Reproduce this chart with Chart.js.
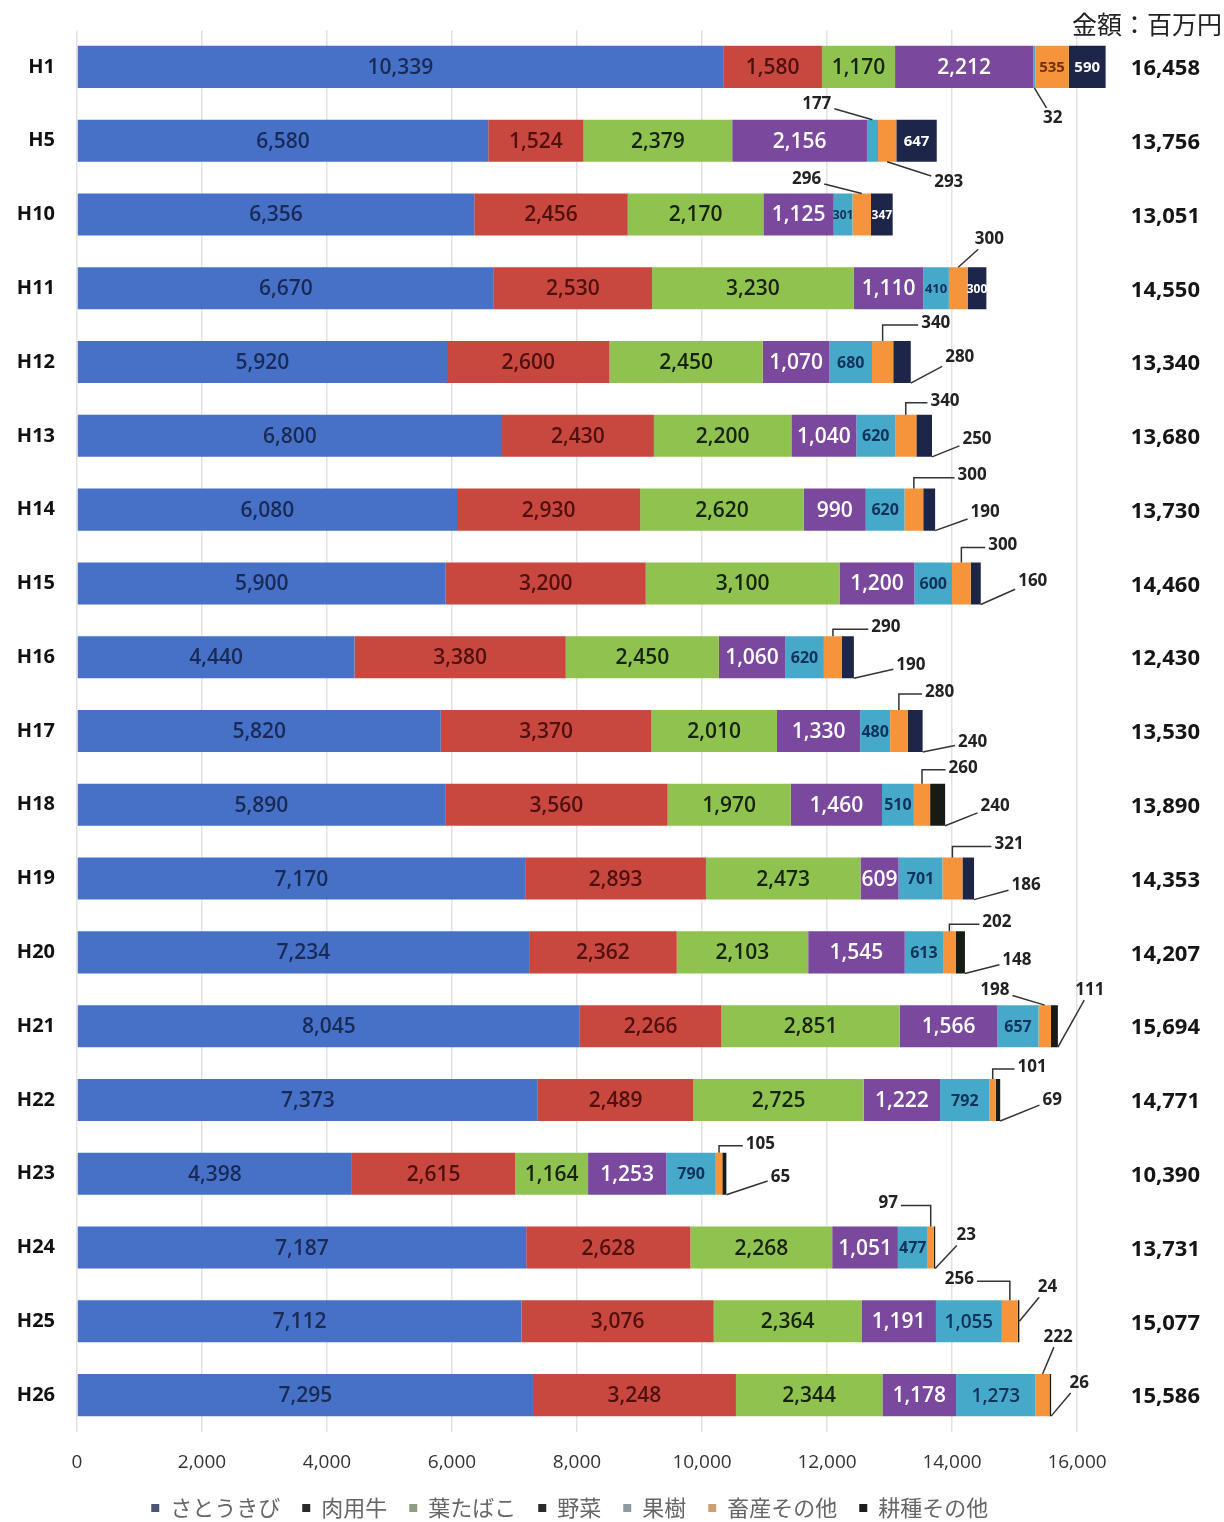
<!DOCTYPE html>
<html><head><meta charset="utf-8">
<script src="https://cdn.jsdelivr.net/npm/chart.js@4.4.1/dist/chart.umd.min.js"></script>
<style>html,body{margin:0;padding:0;background:#fff;}#wrap{position:relative;width:1224px;height:1522px;}</style>
</head><body><div id="wrap"><canvas id="c"></canvas></div>
<script>
const categories = ['H1','H5','H10','H11','H12','H13','H14','H15','H16','H17','H18','H19','H20','H21','H22','H23','H24','H25','H26'];
const sugarcane      = [10339,6580,6356,6670,5920,6800,6080,5900,4440,5820,5890,7170,7234,8045,7373,4398,7187,7112,7295];
const beef           = [1580,1524,2456,2530,2600,2430,2930,3200,3380,3370,3560,2893,2362,2266,2489,2615,2628,3076,3248];
const tobacco        = [1170,2379,2170,3230,2450,2200,2620,3100,2450,2010,1970,2473,2103,2851,2725,1164,2268,2364,2344];
const vegetables     = [2212,2156,1125,1110,1070,1040,990,1200,1060,1330,1460,609,1545,1566,1222,1253,1051,1191,1178];
const fruit          = [32,177,301,410,680,620,620,600,620,480,510,701,613,657,792,790,477,1055,1273];
const livestockOther = [535,293,296,300,340,340,300,300,290,280,260,321,202,198,101,105,97,256,222];
const cropOther      = [590,647,347,300,280,250,190,160,190,240,240,186,148,111,69,65,23,24,26];
const totals         = [16458,13756,13051,14550,13340,13680,13730,14460,12430,13530,13890,14353,14207,15694,14771,10390,13731,15077,15586];
const xTicks = [0,2000,4000,6000,8000,10000,12000,14000,16000];
const seriesNames = ['さとうきび','肉用牛','葉たばこ','野菜','果樹','畜産その他','耕種その他'];
const unitLabel = '金額：百万円';

const seriesColors = ['#4671c6','#c8473e','#8fc24f','#7a489c','#47a9c9','#f6943c','#1d2548'];
const darkCrop = '#161b16';
const cropColors = categories.map((c,i)=> (i===10 || i>=12) ? darkCrop : seriesColors[6]);
const textColors = ['#1a2a56','#50100e','#16220b','#ffffff','#10325a','#6a3210','#ffffff'];
const legendBoxColors = ['#4c5575','#2a2a2a','#8e9c80','#2a2a2a','#8c9ba2','#caa070','#1e1e1e'];

// callouts: [categoryIndex, seriesIndex, dx, dy (text centre relative to bar end / bar centre), kind, anchor]
const callouts = [
 [0,4,-53,51,'line','bc'],
 [1,4,-120,-37,'line','tc'],[1,5,12,41,'line','bc'],
 [2,5,-86,-35,'line','tc'],
 [3,5,3,-49,'line','tc'],
 [4,5,25,-39,'bracket','tc'],[4,6,49,-5,'line','br'],
 [5,5,13,-35,'bracket','tc'],[5,6,45,3,'line','br'],
 [6,5,37,-34,'bracket','tc'],[6,6,50,3,'line','br'],
 [7,5,22,-38,'bracket','tc'],[7,6,52,-2,'line','br'],
 [8,5,32,-30,'bracket','tc'],[8,6,57,8,'line','br'],
 [9,5,17,-39,'bracket','tc'],[9,6,50,11,'line','br'],
 [10,5,18,-37,'bracket','tc'],[10,6,50,1,'line','br'],
 [11,5,35,-34,'bracket','tc'],[11,6,52,7,'line','br'],
 [12,5,32,-30,'bracket','tc'],[12,6,52,8,'line','br'],
 [13,5,-63,-36,'line','tc'],[13,6,32,-36,'line','br'],
 [14,5,32,-33,'bracket','tc'],[14,6,52,0,'line','br'],
 [15,5,34,-30,'bracket','tc'],[15,6,54,3,'line','br'],
 [16,5,-47,-44,'bracket','tc'],[16,6,31,-12,'line','br'],
 [17,5,-60,-42,'bracket','tc'],[17,6,28,-34,'line','rm'],
 [18,5,7,-58,'line','tc'],[18,6,28,-12,'line','br']
];
const insideSmall = new Set(['0-5','0-6','1-6','2-6','3-6']);

const fmt = v => v.toLocaleString('en-US');
const NUMFONT = '"Open Sans", "DejaVu Sans", sans-serif';

const seriesData = [sugarcane,beef,tobacco,vegetables,fruit,livestockOther,cropOther];
const datasets = seriesData.map((d,i)=>({
  label: seriesNames[i],
  data: d,
  backgroundColor: i===6 ? cropColors : seriesColors[i],
  borderWidth: 0,
  barPercentage: 0.57,
  categoryPercentage: 1.0
}));

const labelPlugin = {
  id:'labels',
  afterDatasetsDraw(chart){
    const ctx = chart.ctx;
    ctx.save();
    ctx.textBaseline = 'middle';
    ctx.textAlign = 'center';
    chart.data.datasets.forEach((ds,di)=>{
      const meta = chart.getDatasetMeta(di);
      meta.data.forEach((el,j)=>{
        const v = ds.data[j];
        const key = j+'-'+di;
        let show = di<=4 ? v>=300 : insideSmall.has(key);
        if(!show) return;
        const w = Math.abs(el.x - el.base);
        const cx = (el.x + el.base)/2;
        let size, weight='600';
        if(di<=3){ size = 21; }
        else if(di===4){ if(v<1000){size=16;weight='bold';} else {size=19;} }
        else { size = 15; weight='bold'; }
        const txt = fmt(v);
        ctx.font = weight+' '+size+'px '+NUMFONT;
        while(ctx.measureText(txt).width > w-2 && size>12){ size--; ctx.font = weight+' '+size+'px '+NUMFONT; }
        ctx.fillStyle = textColors[di];
        ctx.fillText(txt, cx, el.y+1);
      });
    });
    ctx.font = 'bold 17px '+NUMFONT;
    ctx.strokeStyle = '#333';
    ctx.lineWidth = 1.5;
    const lastMeta = chart.getDatasetMeta(6);
    callouts.forEach(([ci,si,dx,dy,kind,anchor])=>{
      const el = chart.getDatasetMeta(si).data[ci];
      const endX = lastMeta.data[ci].x;
      const cy = el.y, h = el.height;
      const tx = endX + dx, ty = cy + dy;
      let ax, ay;
      const segC = (el.x+el.base)/2;
      if(anchor==='tc'){ax=segC; ay=cy-h/2;}
      else if(anchor==='bc'){ax=segC; ay=cy+h/2;}
      else if(anchor==='br'){ax=el.x; ay=cy+h/2;}
      else {ax=el.x; ay=cy;}
      const txt = fmt(chart.data.datasets[si].data[ci]);
      const tw = ctx.measureText(txt).width;
      ctx.fillStyle = '#222';
      ctx.fillText(txt, tx, ty);
      ctx.beginPath();
      if(kind==='bracket'){
        const ex = ax < tx ? tx - tw/2 - 3 : tx + tw/2 + 3;
        ctx.moveTo(ax, ay);
        ctx.lineTo(ax, ty+2);
        ctx.lineTo(ex, ty+2);
      } else {
        const vx = ax - tx, vy = ay - ty;
        const t = Math.min(Math.abs(vx)>0.01 ? (tw/2+3)/Math.abs(vx) : 99, Math.abs(vy)>0.01 ? 10/Math.abs(vy) : 99);
        ctx.moveTo(ax, ay);
        ctx.lineTo(tx + vx*t, ty + vy*t);
      }
      ctx.stroke();
    });
    ctx.textAlign = 'right';
    ctx.font = 'bold 22px '+NUMFONT;
    ctx.fillStyle = '#151515';
    lastMeta.data.forEach((el,j)=>{ ctx.fillText(fmt(totals[j]), 1200, el.y+2); });
    ctx.font = '25px "Noto Sans CJK JP", sans-serif';
    ctx.fillStyle = '#222';
    ctx.fillText(unitLabel, 1222, 24);
    ctx.restore();
  }
};

new Chart(document.getElementById('c'), {
  type:'bar',
  data:{ labels: categories, datasets },
  options:{
    indexAxis:'y',
    responsive:true,
    maintainAspectRatio:false,
    devicePixelRatio:1,
    animation:false,
    layout:{ padding:{ top:30, right:84.5, left:0, bottom:-7 } },
    plugins:{
      legend:{
        position:'bottom',
        labels:{
          font:{ family:'"Noto Sans CJK JP", sans-serif', size:22 },
          color:'#666',
          boxWidth:8, boxHeight:8, padding:22,
          generateLabels(chart){
            return chart.data.datasets.map((ds,i)=>({
              text: ds.label, fillStyle: legendBoxColors[i], strokeStyle: legendBoxColors[i],
              lineWidth:0, hidden:false, datasetIndex:i, fontColor:'#666'
            }));
          }
        }
      },
      tooltip:{ enabled:false }
    },
    scales:{
      x:{
        stacked:true, min:0, max:17000,
        afterBuildTicks(axis){ axis.ticks = xTicks.map(v=>({value:v})); },
        afterFit(axis){ axis.height = 43; },
        ticks:{ callback:v=>fmt(v), font:{ family:NUMFONT, size:19 }, color:'#333', padding:19, maxRotation:0 },
        grid:{ color:'#e2e2e2', lineWidth:1.5, drawTicks:false },
        border:{ display:false }
      },
      y:{
        stacked:true,
        afterFit(axis){ axis.width = 77; },
        ticks:{ font:{ family:NUMFONT, size:20, weight:'bold' }, color:'#111', padding:14 },
        grid:{ display:false },
        border:{ display:false }
      }
    }
  },
  plugins:[labelPlugin]
});
</script></body></html>
